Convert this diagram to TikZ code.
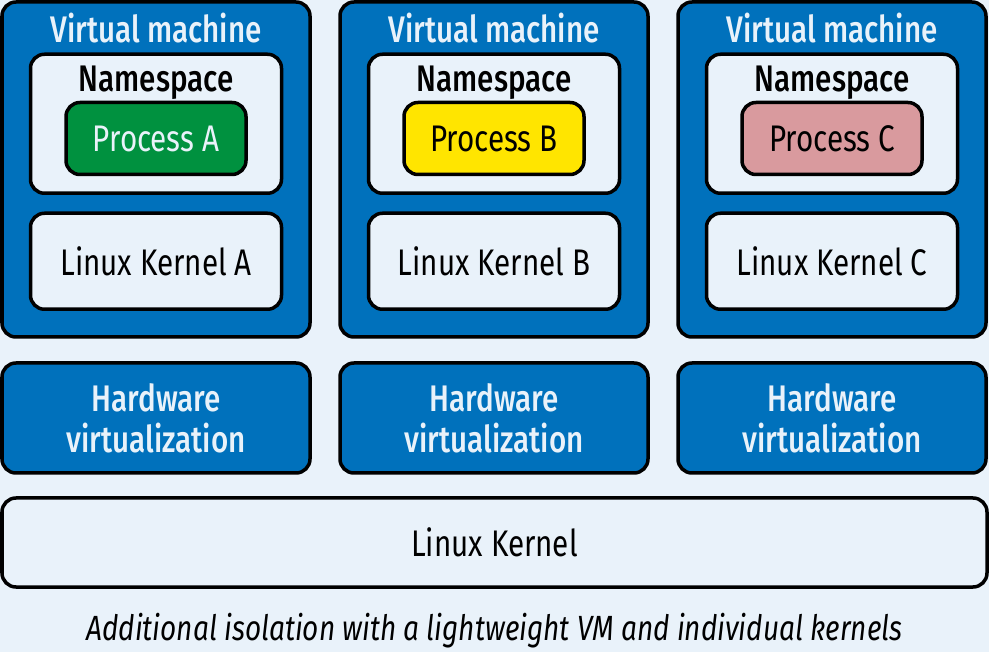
\documentclass[tikz,border=0pt]{standalone}
\usepackage{fontspec}
\setmainfont[FakeStretch=0.8, BoldFont={Fira Sans Medium}, BoldFeatures={FakeStretch=0.8}]{Fira Sans}
\usepackage{tikz}
\usetikzlibrary{calc,positioning}
\definecolor{vmblue}{HTML}{0071BC}
\definecolor{paleblue}{HTML}{E9F2FA}
\definecolor{procgreen}{HTML}{00913F}
\definecolor{procyellow}{HTML}{FFE500}
\definecolor{procpink}{HTML}{D99A9E}
\tikzset{
node distance=338pt, % spacing between the three columns
box/.style={draw=black, line width=3.5pt, rounded corners=14pt, inner sep=0pt},
vm/.style={box, fill=vmblue, minimum width=308pt, minimum height=335pt},
ns/.style={box, fill=paleblue, minimum width=251pt, minimum height=139pt},
proc/.style={box, minimum width=180pt, minimum height=72pt, font=\fontsize{37}{40}\selectfont},
kernel/.style={box, fill=paleblue, minimum width=251pt, minimum height=96pt, font=\fontsize{37}{40}\selectfont},
hw/.style={box, fill=vmblue, text=paleblue, minimum width=308pt, minimum height=110pt, align=center, font=\bfseries\fontsize{37}{41}\selectfont},
title/.style={text=paleblue, font=\bfseries\fontsize{37}{40}\selectfont},
nstitle/.style={font=\bfseries\fontsize{37}{40}\selectfont},
}

\begin{document}
\begin{tikzpicture}[x=1pt,y=1pt,on grid]
   \fill[paleblue] (0,0) rectangle (989,-652);
   % virtual machines
   \node[vm] (vmA) at (156,-169.5) {};
   \node[vm] (vmB) [right=of vmA] {};
   \node[vm] (vmC) [right=of vmB] {};
   \node[title] (tA) at ($(vmA.north)+(0,-28)$) {Virtual machine};
   \node[title] (tB) at ($(vmB.north)+(0,-28)$) {Virtual machine};
   \node[title] (tC) at ($(vmC.north)+(0,-28)$) {Virtual machine};
   % namespaces
   \node[ns] (nsA) at ($(vmA.north)+(0,-123.5)$) {};
   \node[ns] (nsB) [right=of nsA] {};
   \node[ns] (nsC) [right=of nsB] {};
   \node[nstitle] (nA) at ($(nsA.north)+(0,-30)$) {Namespace};
   \node[nstitle] (nB) at ($(nsB.north)+(0,-30)$) {Namespace};
   \node[nstitle] (nC) at ($(nsC.north)+(0,-30)$) {Namespace};
   % processes
   \node[proc, fill=procgreen, text=paleblue] (pA) at ($(nsA.north)+(0,-86)$) {Process A};
   \node[proc, fill=procyellow] (pB) [right=of pA] {Process B};
   \node[proc, fill=procpink] (pC) [right=of pB] {Process C};
   % guest kernels
   \node[kernel] (kA) at ($(vmA.north)+(0,-261)$) {Linux Kernel A};
   \node[kernel] (kB) [right=of kA] {Linux Kernel B};
   \node[kernel] (kC) [right=of kB] {Linux Kernel C};
   % hardware virtualization
   \node[hw] (hA) at (156,-418) {Hardware\\virtualization};
   \node[hw] (hB) [right=of hA] {Hardware\\virtualization};
   \node[hw] (hC) [right=of hB] {Hardware\\virtualization};
   % host kernel
   \node[box, fill=paleblue, minimum width=985pt, minimum height=89pt, font=\fontsize{37}{40}\selectfont] (host) at (494.5,-542.5) {Linux Kernel};
   \node[font=\itshape\fontsize{35}{40}\selectfont] (cap) at (494.5,-631) {Additional isolation with a lightweight VM and individual kernels};
\end{tikzpicture}
\end{document}
